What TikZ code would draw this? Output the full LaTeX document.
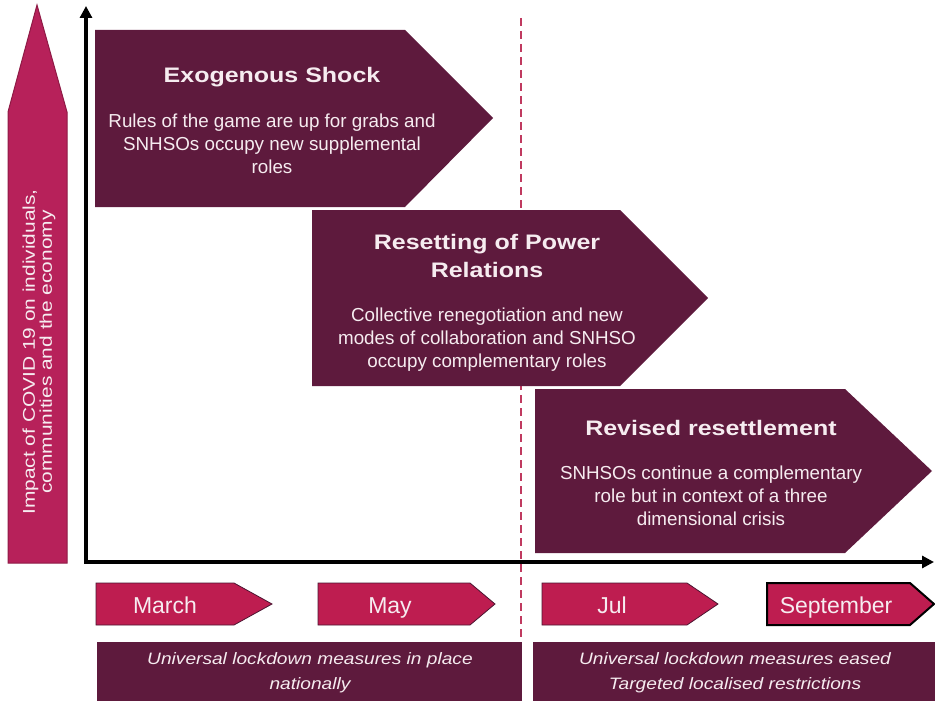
\documentclass[tikz,border=0pt]{standalone}
\usepackage{fontspec}
\setmainfont{Liberation Sans}
\newfontfamily\widefont[FakeStretch=1.19]{Liberation Sans}
\newfontfamily\semiwidefont[FakeStretch=1.16]{Liberation Sans}
\newfontfamily\sidefont[FakeStretch=1.23]{Liberation Sans}
\usetikzlibrary{arrows.meta}
\definecolor{maroon}{HTML}{5E1A3D}
\definecolor{rosepink}{HTML}{BE1D50}
\definecolor{arrowpink}{HTML}{B7215A}
\definecolor{arrowedge}{HTML}{8E1A45}
\definecolor{dashred}{HTML}{C03A60}
\definecolor{textpink}{HTML}{F6ECF0}
\tikzset{
  phasebox/.style={fill=maroon},
  monthbox/.style={fill=rosepink, draw=maroon!80!black, line width=0.8pt},
  ttl/.style={text=textpink, font=\widefont\fontsize{21}{28}\selectfont\bfseries, align=center},
  bodytxt/.style={text=textpink, font=\fontsize{18.8}{23}\selectfont, align=center},
  monthtxt/.style={text=textpink, font=\fontsize{23}{24}\selectfont, anchor=base},
  lockbox/.style={fill=maroon},
  locktxt/.style={text=textpink, font=\semiwidefont\fontsize{16.5}{25}\selectfont\itshape, align=center},
  axisline/.style={line width=3.5pt, -{Triangle[length=12pt,width=12pt]}},
}
\begin{document}
\begin{tikzpicture}[x=1pt,y=-1pt]
\useasboundingbox (0,0) rectangle (935,701);
% dashed divider
\coordinate (dtop) at (521,18);
\coordinate (dbot) at (521,701);
\draw[dashred, line width=2pt, dash pattern=on 8pt off 5pt] (dtop) -- (dbot);
% impact arrow
\filldraw[fill=arrowpink, draw=arrowedge, line width=1pt] (37,5) -- (67,112) -- (67,563) -- (8,563) -- (8,112) -- cycle;
\node[rotate=90, text=textpink, font=\sidefont\fontsize{17}{17}\selectfont, align=center] (impact) at (39,352)
  {Impact of COVID 19 on individuals,\\communities and the economy};
% axes
\coordinate (origin) at (86,562);
\coordinate (ytip) at (86,6);
\coordinate (xtip) at (934,562);
\draw[axisline] ([yshift=1.75pt]origin) -- (ytip);
\draw[axisline] ([xshift=-1.75pt]origin) -- (xtip);
% phase boxes
\fill[phasebox] (95,30) -- (405,30) -- (493,118) -- (405,207) -- (95,207) -- cycle;
\node[ttl] (t1) at (272,77) {Exogenous Shock};
\node[bodytxt] (b1) at (272,144) {Rules of the game are up for grabs and\\SNHSOs occupy new supplemental\\roles};
\fill[phasebox] (312,210) -- (620,210) -- (708,298) -- (620,386) -- (312,386) -- cycle;
\node[ttl] (t2) at (487,256) {Resetting of Power\\Relations};
\node[bodytxt] (b2) at (487,340) {Collective renegotiation and new\\modes of collaboration and SNHSO\\occupy complementary roles};
\fill[phasebox] (535,389) -- (845,389) -- (932,471) -- (845,553) -- (535,553) -- cycle;
\node[ttl] (t3) at (711,428) {Revised resettlement};
\node[bodytxt] (b3) at (711,496) {SNHSOs continue a complementary\\role but in context of a three\\dimensional crisis};
% month arrows
\draw[monthbox] (96,583) -- (234,583) -- (272,604) -- (234,625) -- (96,625) -- cycle;
\node[monthtxt] (m1) at (165,613) {March};
\draw[monthbox] (318,583) -- (470,583) -- (495,604) -- (470,625) -- (318,625) -- cycle;
\node[monthtxt] (m2) at (390,613) {May};
\draw[monthbox] (542,583) -- (687,583) -- (718,604) -- (687,625) -- (542,625) -- cycle;
\node[monthtxt] (m3) at (612,613) {Jul};
\draw[monthbox, draw=black, line width=2pt] (767,583) -- (910,583) -- (934,604) -- (910,625) -- (767,625) -- cycle;
\node[monthtxt] (m4) at (836,613) {September};
% lockdown boxes
\fill[lockbox] (97,642) rectangle (522,701);
\node[locktxt] (l1) at (310,673) {Universal lockdown measures in place\\nationally};
\fill[lockbox] (533,642) rectangle (935,701);
\node[locktxt] (l2) at (735,673) {Universal lockdown measures eased\\Targeted localised restrictions};
\end{tikzpicture}
\end{document}
